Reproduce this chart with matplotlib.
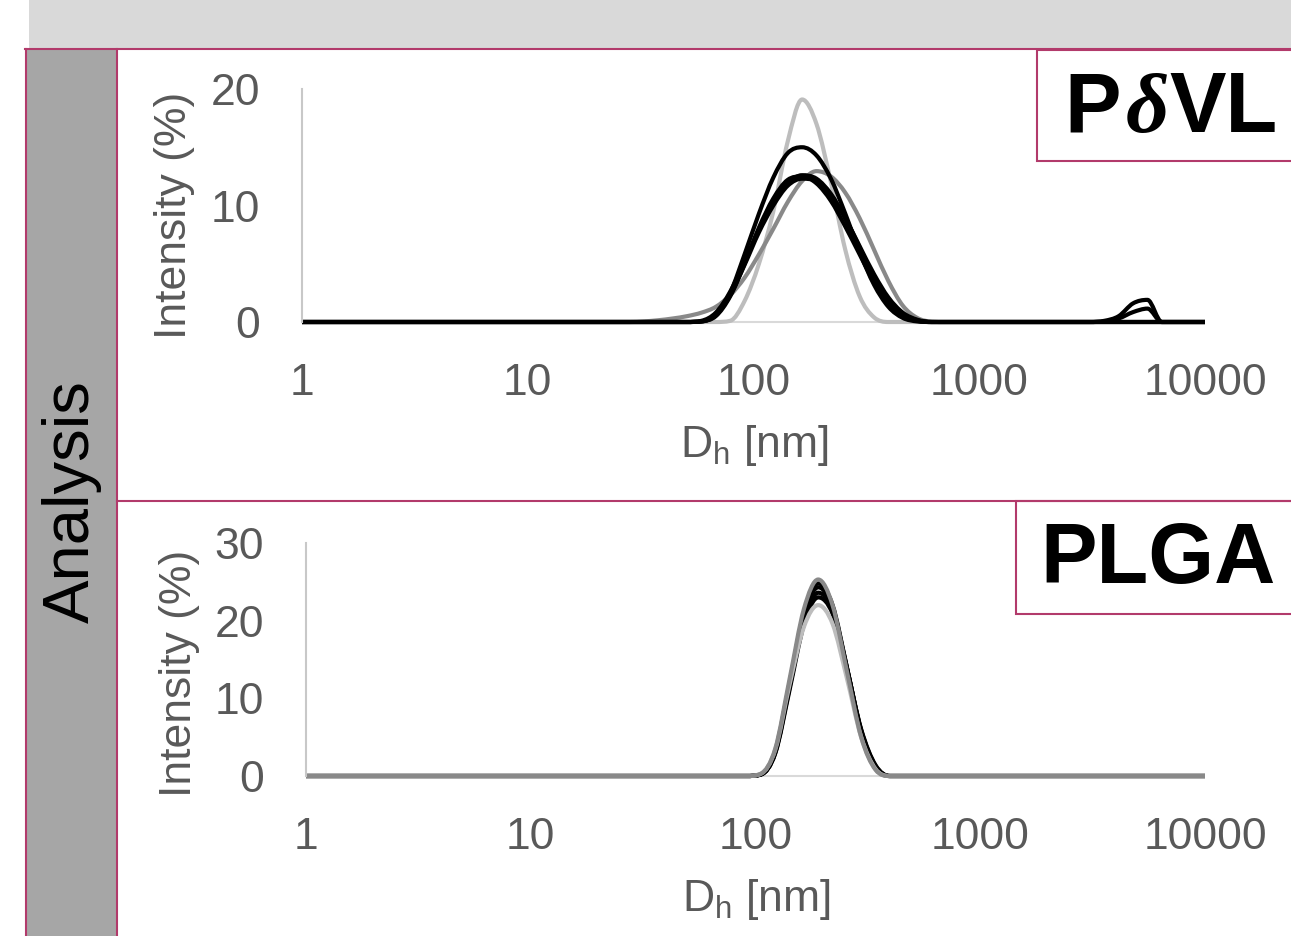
import numpy as np
import matplotlib
matplotlib.use('Agg')
from matplotlib import pyplot as plt
from matplotlib.path import Path
from matplotlib.patches import PathPatch, Rectangle
from matplotlib.lines import Line2D
from matplotlib.ticker import NullLocator

plt.rcParams['font.family'] = ['Liberation Sans', 'DejaVu Sans']

# DLS size bins (nm), log spaced
sizes_nm = [0.4, 0.4632, 0.5365, 0.6213, 0.7195, 0.8332, 0.9649, 1.117, 1.294, 1.499,
            1.736, 2.01, 2.328, 2.696, 3.122, 3.615, 4.187, 4.849, 5.615, 6.503,
            7.531, 8.721, 10.1, 11.7, 13.54, 15.69, 18.17, 21.04, 24.36, 28.21,
            32.67, 37.84, 43.82, 50.75, 58.77, 68.06, 78.82, 91.28, 105.7, 122.4,
            141.8, 164.2, 190.1, 220.2, 255.0, 295.3, 342.0, 396.1, 458.7, 531.2,
            615.1, 712.4, 825.0, 955.4, 1106, 1281, 1484, 1718, 1990, 2305,
            2669, 3091, 3580, 4145, 4801, 5560, 6439, 7456, 8635, 10000]


def series(*segments):
    # (first bin index, values) pieces, everything else is zero
    out = [0.0] * len(sizes_nm)
    for start, vals in segments:
        out[start:start + len(vals)] = vals
    return out


# P-delta-VL intensity (%)
pdvl_lightgrey = series((36, [0.1, 1.8, 5.0, 9.5, 15.5, 19.1, 17.0, 12.0, 6.2, 2.2, 0.4]))
pdvl_darkgrey = series((30, [0.05, 0.15, 0.3, 0.5, 0.8, 1.3, 2.3, 3.8, 5.8, 8.0, 10.3,
                             12.1, 12.95, 12.5, 11.1, 8.9, 6.2, 3.5, 1.4, 0.35, 0.03]))
pdvl_black_1 = series((34, [0.05, 0.6, 2.5, 5.8, 9.3, 12.4, 14.5, 15.0, 14.3, 12.3,
                            9.3, 6.0, 3.2, 1.3, 0.35, 0.05]))
pdvl_black_2 = series((34, [0.1, 0.8, 2.6, 5.2, 7.9, 10.2, 11.9, 12.6, 12.3, 11.0,
                            8.9, 6.4, 3.9, 1.9, 0.7, 0.15]),
                      (62, [0.1, 0.5, 1.6, 1.9]))
pdvl_black_3 = series((34, [0.05, 0.6, 2.3, 4.9, 7.7, 10.0, 11.7, 12.3, 12.1, 10.9,
                            8.9, 6.5, 4.1, 2.1, 0.8, 0.2]),
                      (62, [0.05, 0.3, 0.85, 1.15]))
pdvl_black_4 = series((34, [0.05, 0.5, 2.2, 5.0, 8.1, 10.6, 12.2, 12.5, 11.9, 10.4,
                            8.2, 5.8, 3.4, 1.6, 0.5, 0.1]))

# PLGA intensity (%)
plga_darkgrey = series((38, [0.3, 3.5, 12.5, 21.5, 25.3, 22.0, 13.5, 5.0, 0.8]))
plga_black_1 = series((38, [0.2, 3.2, 12.0, 21.0, 24.8, 22.0, 14.0, 5.6, 1.1]))
plga_black_2 = series((38, [0.2, 3.1, 11.7, 20.6, 24.3, 21.7, 14.0, 5.8, 1.2]))
plga_black_3 = series((38, [0.2, 3.0, 11.4, 20.0, 23.6, 21.3, 13.9, 5.9, 1.3]))
plga_black_4 = series((38, [0.2, 2.9, 11.1, 19.5, 23.0, 20.9, 13.8, 6.0, 1.4]))
plga_lightgrey = series((38, [0.3, 3.4, 11.8, 19.2, 22.0, 19.6, 12.6, 5.0, 0.9]))

x_ticks = [1, 10, 100, 1000, 10000]
x_ticklabels = ['1', '10', '100', '1000', '10000']

BLACK = '#000000'
DGREY = '#898989'
LGREY = '#bdbdbd'
ACCENT = '#b23a6b'
TXT = '#595959'

W, H = 1291, 936
fig = plt.figure(figsize=(W / 100, H / 100), dpi=100)


def fx(px):
    return px / W


def fy(py):
    return 1 - py / H


def rect(x0, y0, x1, y1, **kw):
    fig.add_artist(Rectangle((fx(x0), fy(y1)), fx(x1) - fx(x0), fy(y0) - fy(y1),
                             transform=fig.transFigure, **kw))


def hline(x0, x1, y, **kw):
    fig.add_artist(Line2D([fx(x0), fx(x1)], [fy(y), fy(y)], transform=fig.transFigure, **kw))


def vline(x, y0, y1, **kw):
    fig.add_artist(Line2D([fx(x), fx(x)], [fy(y0), fy(y1)], transform=fig.transFigure, **kw))


def smooth_path(xs, ys):
    # smoothed line like a spreadsheet chart, built in log-x space
    u = np.log10(xs)
    v = np.asarray(ys, float)
    n = len(u)
    mu = np.gradient(u)
    mv = np.zeros(n)
    for i in range(1, n - 1):
        dl = v[i] - v[i - 1]
        dr = v[i + 1] - v[i]
        if dl * dr > 0:
            m = (v[i + 1] - v[i - 1]) / 2
            lim = 3 * min(abs(dl), abs(dr))
            mv[i] = np.sign(m) * min(abs(m), lim)
    verts = [(u[0], v[0])]
    codes = [Path.MOVETO]
    for i in range(n - 1):
        verts += [(u[i] + mu[i] / 3, v[i] + mv[i] / 3),
                  (u[i + 1] - mu[i + 1] / 3, v[i + 1] - mv[i + 1] / 3),
                  (u[i + 1], v[i + 1])]
        codes += [Path.CURVE4] * 3
    verts = np.array(verts)
    verts[:, 0] = 10 ** verts[:, 0]
    return Path(verts, codes)


def panel(left, right, y0px, ytop_px, ymax, yticks, curves):
    scale = (y0px - ytop_px) / ymax
    pad = 4.5 / scale
    bottom_px = y0px + pad * scale
    ax = fig.add_axes([fx(left), fy(bottom_px), fx(right) - fx(left), fy(ytop_px) - fy(bottom_px)])
    ax.set_xscale('log')
    ax.set_xlim(1, 10000)
    ax.set_ylim(-pad, ymax)
    ax.patch.set_alpha(0)
    ax.axhline(0, color='#d9d9d9', lw=1.5, zorder=0.5)
    for vals, col in curves:
        ax.add_patch(PathPatch(smooth_path(sizes_nm, vals), fill=False, edgecolor=col,
                               lw=3, capstyle='butt', joinstyle='round'))
    for s in ['top', 'right', 'bottom']:
        ax.spines[s].set_visible(False)
    ax.spines['left'].set_color('#c8c8c8')
    ax.spines['left'].set_linewidth(1.5)
    ax.spines['left'].set_bounds(0, ymax)
    ax.set_xticks(x_ticks)
    ax.set_xticklabels(x_ticklabels)
    ax.xaxis.set_minor_locator(NullLocator())
    ax.set_yticks(yticks)
    ax.tick_params(axis='both', length=0, labelsize=32, labelcolor=TXT)
    ax.tick_params(axis='x', pad=26)
    ax.tick_params(axis='y', pad=30)
    return ax


# background blocks and frame
rect(29, 0, 1291, 48, facecolor='#d9d9d9', edgecolor='none')
rect(25, 49, 117, 940, facecolor='#a6a6a6', edgecolor='none')
hline(25, 1291, 49, color=ACCENT, lw=1.5)
vline(26, 49, 936, color=ACCENT, lw=1.5)
vline(117, 49, 936, color=ACCENT, lw=1.5)
hline(117, 1291, 501, color=ACCENT, lw=1.5)

ax1 = panel(302, 1205, 322, 89, 20, [0, 10, 20],
            [(pdvl_lightgrey, LGREY), (pdvl_darkgrey, DGREY), (pdvl_black_4, BLACK),
             (pdvl_black_3, BLACK), (pdvl_black_2, BLACK), (pdvl_black_1, BLACK)])
ax2 = panel(306, 1205, 776, 543, 30, [0, 10, 20, 30],
            [(plga_black_4, BLACK), (plga_black_3, BLACK), (plga_black_2, BLACK),
             (plga_black_1, BLACK), (plga_lightgrey, LGREY), (plga_darkgrey, DGREY)])

# axis titles
fig.text(fx(175), fy(215), 'Intensity (%)', rotation=90, ha='center', va='center',
         fontsize=32, color=TXT)
fig.text(fx(179), fy(673), 'Intensity (%)', rotation=90, ha='center', va='center',
         fontsize=32, color=TXT)
fig.text(fx(754), fy(457), r'D$_\mathregular{h}$ [nm]', ha='center', va='baseline',
         fontsize=32, color=TXT)
fig.text(fx(756), fy(911), r'D$_\mathregular{h}$ [nm]', ha='center', va='baseline',
         fontsize=32, color=TXT)
fig.text(fx(72), fy(502), 'Analysis', rotation=90, ha='center', va='center',
         fontsize=47, color='black')

# label boxes
rect(1037, 50, 1300, 161, facecolor='white', edgecolor=ACCENT, lw=1.5)
rect(1016, 501, 1300, 614, facecolor='white', edgecolor=ACCENT, lw=1.5)

fig.text(fx(1040), fy(583), 'PLGA', ha='left', va='baseline', fontsize=61,
         fontweight='bold', color='black')

renderer = fig.canvas.get_renderer()
t = fig.text(fx(1064), fy(132), 'P', ha='left', va='baseline', fontsize=61,
             fontweight='bold', color='black')
bb = t.get_window_extent(renderer)
t = fig.text(bb.x1 / W + 0.004, fy(132), 'δ', ha='left', va='baseline', fontsize=61,
             family=['Liberation Serif', 'DejaVu Serif'], style='italic', fontweight='bold',
             color='black')
bb = t.get_window_extent(renderer)
fig.text(bb.x1 / W, fy(132), 'VL', ha='left', va='baseline', fontsize=61,
         fontweight='bold', color='black')

fig.savefig('out.png', dpi=100)
